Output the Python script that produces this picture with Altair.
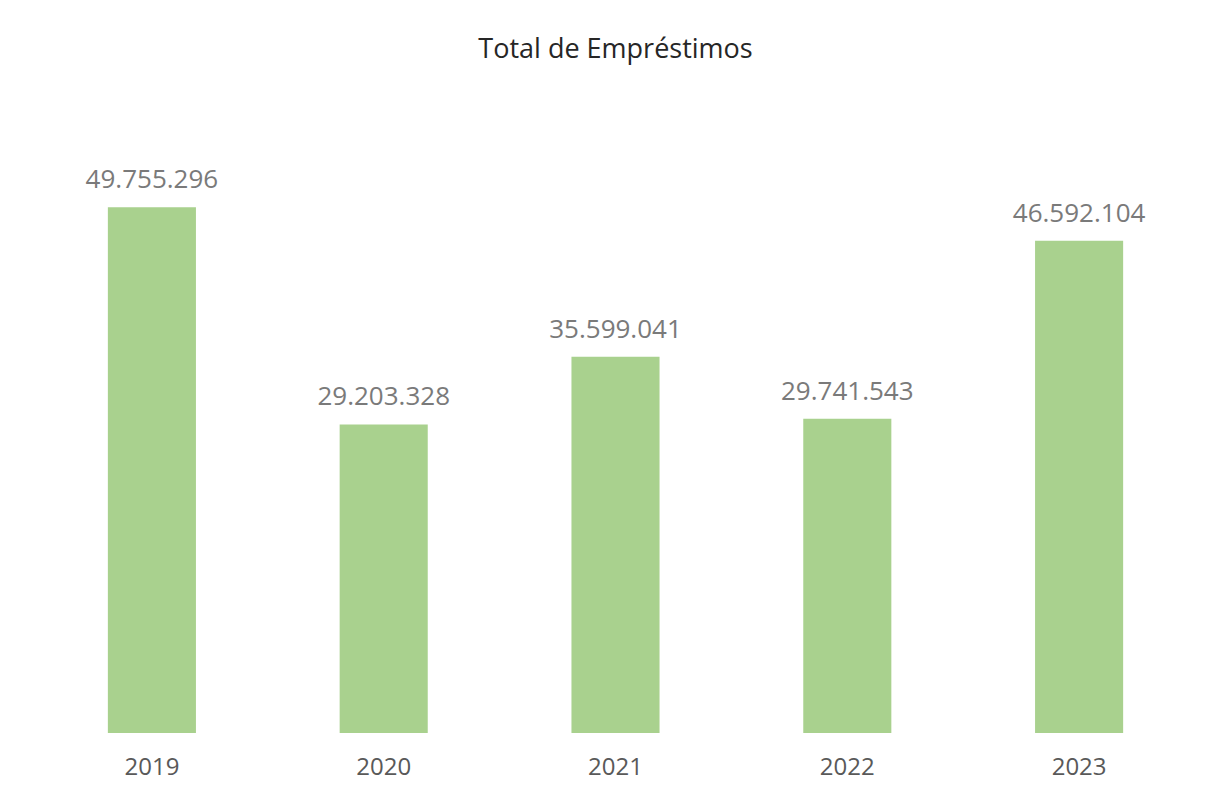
import altair as alt
import pandas as pd

years = ["2019", "2020", "2021", "2022", "2023"]
values = [49755296, 29203328, 35599041, 29741543, 46592104]
labels = [f"{v:,}".replace(",", ".") for v in values]

df = pd.DataFrame({"ano": years, "total": values, "rotulo": labels})

FONT = "Open Sans"

base = alt.Chart(df).encode(
    x=alt.X(
        "ano:N",
        sort=years,
        scale=alt.Scale(paddingInner=0.62, paddingOuter=0.31),
        axis=alt.Axis(
            title=None,
            labelAngle=0,
            domain=False,
            ticks=False,
            labelFont=FONT,
            labelFontSize=24,
            labelColor="#595959",
            labelPadding=22,
        ),
    ),
    y=alt.Y(
        "total:Q",
        scale=alt.Scale(domain=[0, 60000000], nice=False),
        axis=None,
    ),
)

bars = base.mark_bar(color="#A9D18E")
text = base.mark_text(
    baseline="alphabetic",
    dy=-19,
    font=FONT,
    fontSize=26,
    color="#7A7A7A",
).encode(text="rotulo:N")

chart = (
    (bars + text)
    .properties(
        width=1159,
        height=634,
        padding={"left": 28, "top": 91, "right": 0, "bottom": 48},
        autosize=alt.AutoSizeParams(type="none"),
        title=alt.TitleParams(
            "Total de Empréstimos",
            font=FONT,
            fontSize=27,
            fontWeight="normal",
            color="#262626",
            anchor="middle",
            offset=35,
        ),
        background="white",
    )
    .configure_view(stroke=None)
)

chart.save("out.html", embed_options={"renderer": "svg", "actions": False})
